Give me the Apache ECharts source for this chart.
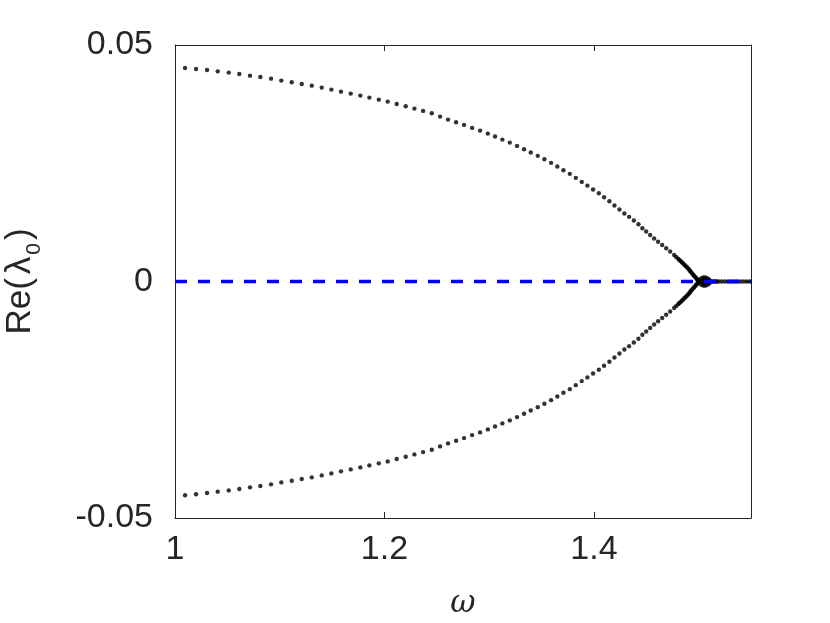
<!DOCTYPE html>
<html>
<head>
<meta charset="utf-8">
<script src="https://cdn.jsdelivr.net/npm/echarts@6/dist/echarts.min.js"></script>
<style>
  html, body { margin: 0; padding: 0; background: #fff; }
  #chart { width: 830px; height: 623px; }
</style>
</head>
<body>
<div id="chart"></div>
<script>
  // omega values of the two bifurcating branches
  var omega = [
    1.0096, 1.0201, 1.0306, 1.0408, 1.0513, 1.0614, 1.0716, 1.0815, 1.0917, 1.1015,
    1.1115, 1.1210, 1.1306, 1.1401, 1.1493, 1.1585, 1.1678, 1.1770, 1.1856, 1.1946,
    1.2031, 1.2117, 1.2203, 1.2286, 1.2369, 1.2452, 1.2531, 1.2607, 1.2684, 1.2760,
    1.2837, 1.2913, 1.2987, 1.3056, 1.3126, 1.3197, 1.3266, 1.3333, 1.3397, 1.3464,
    1.3527, 1.3591, 1.3651, 1.3709, 1.3770, 1.3827, 1.3884, 1.3938, 1.3992, 1.4047,
    1.4097, 1.4148, 1.4196, 1.4244, 1.4291, 1.4336, 1.4381, 1.4425, 1.4463, 1.4499,
    1.4537, 1.4575, 1.4613, 1.4652, 1.4690, 1.4728, 1.4766,
    1.4785, 1.4804, 1.4816, 1.4828, 1.4840, 1.4852, 1.4864, 1.4876, 1.4888, 1.4900,
    1.4910, 1.4919, 1.4928, 1.4938, 1.4948, 1.4957, 1.4966, 1.4976, 1.4983, 1.4990,
    1.4998, 1.5005
  ];
  var reUpper = [
    0.04515, 0.04494, 0.04473, 0.04443, 0.04416, 0.04388, 0.04352, 0.04325, 0.04289, 0.04247,
    0.04211, 0.04177, 0.04141, 0.04099, 0.04057, 0.04014, 0.03972, 0.03930, 0.03888, 0.03845,
    0.03803, 0.03754, 0.03704, 0.03655, 0.03607, 0.03556, 0.03486, 0.03423, 0.03366, 0.03311,
    0.03247, 0.03190, 0.03127, 0.03064, 0.03000, 0.02937, 0.02867, 0.02795, 0.02726, 0.02656,
    0.02584, 0.02508, 0.02430, 0.02352, 0.02276, 0.02191, 0.02106, 0.02028, 0.01944, 0.01866,
    0.01781, 0.01697, 0.01606, 0.01521, 0.01437, 0.01367, 0.01289, 0.01211, 0.01126, 0.01056,
    0.00982, 0.00909, 0.00839, 0.00771, 0.00704, 0.00634, 0.00560,
    0.00520, 0.00480, 0.00456, 0.00433, 0.00406, 0.00380, 0.00353, 0.00327, 0.00301, 0.00275,
    0.00248, 0.00222, 0.00195, 0.00169, 0.00145, 0.00120, 0.00097, 0.00074, 0.00055, 0.00036,
    0.00020, 0.00010
  ];
  var reLower = [
    -0.04520, -0.04497, -0.04473, -0.04443, -0.04416, -0.04388, -0.04352, -0.04325, -0.04289, -0.04247,
    -0.04211, -0.04177, -0.04141, -0.04099, -0.04057, -0.04014, -0.03972, -0.03930, -0.03888, -0.03845,
    -0.03803, -0.03754, -0.03704, -0.03655, -0.03607, -0.03556, -0.03486, -0.03423, -0.03366, -0.03311,
    -0.03247, -0.03190, -0.03127, -0.03064, -0.03000, -0.02937, -0.02867, -0.02795, -0.02726, -0.02656,
    -0.02584, -0.02508, -0.02430, -0.02352, -0.02276, -0.02191, -0.02106, -0.02028, -0.01944, -0.01866,
    -0.01781, -0.01697, -0.01606, -0.01521, -0.01437, -0.01367, -0.01289, -0.01211, -0.01126, -0.01056,
    -0.00982, -0.00909, -0.00839, -0.00771, -0.00704, -0.00634, -0.00560,
    -0.00520, -0.00480, -0.00456, -0.00433, -0.00406, -0.00380, -0.00353, -0.00327, -0.00301, -0.00275,
    -0.00248, -0.00222, -0.00195, -0.00169, -0.00145, -0.00120, -0.00097, -0.00074, -0.00055, -0.00036,
    -0.00020, -0.00010
  ];
  // cluster at the bifurcation point
  var omegaKnot = [1.5025, 1.5025, 1.5045, 1.5045, 1.5065, 1.5065, 1.5085, 1.5085, 1.5100, 1.5100,
                   1.5035, 1.5055, 1.5075, 1.5095];
  var reKnot = [0.0006, -0.0006, 0.0008, -0.0008, 0.0008, -0.0008, 0.0006, -0.0006, 0.0003, -0.0003,
                0, 0, 0, 0];
  // branch sitting on zero after the bifurcation
  var omegaZero = [1.5115, 1.5130, 1.5145, 1.5160, 1.5175, 1.5190, 1.5220, 1.5250, 1.5280, 1.5310,
                   1.5340, 1.5370, 1.5400, 1.5430, 1.5460, 1.5490];
  var reZero = [0, 0, 0, 0, 0, 0, 0, 0, 0, 0, 0, 0, 0, 0, 0, 0];
  // dashed reference line
  var refOmega = [1, 1.55];
  var refRe = [0, 0];

  var xTicks = [1, 1.2, 1.4];
  var yTicks = [-0.05, 0, 0.05];

  function pairs(xs, ys) {
    return xs.map(function (x, i) { return [x, ys[i]]; });
  }

  var chart = echarts.init(document.getElementById('chart'), null, {renderer: 'canvas'});
  var axisColor = '#262626';
  var font = 'Liberation Sans, Arial, sans-serif';

  var dotStyle = {color: '#000'};
  var boxLine = {onZero: false, lineStyle: {color: axisColor, width: 1}};
  var boxTick = {inside: true, length: 6, lineStyle: {color: axisColor}};
  var option = {
    animation: false,
    backgroundColor: '#fff',
    grid: {left: 175, right: 79, top: 45, bottom: 105, outerBoundsMode: 'none', containLabel: false},
    xAxis: [{
      type: 'value',
      min: 1, max: 1.55, interval: 0.2,
      name: 'ω',
      nameLocation: 'middle',
      nameGap: 70,
      nameTextStyle: {fontFamily: 'DejaVu Serif, serif', fontStyle: 'italic', fontSize: 31, color: axisColor},
      axisLine: boxLine,
      axisTick: boxTick,
      axisLabel: {
        margin: 15, fontSize: 34, fontFamily: font, color: axisColor,
        showMaxLabel: false,
        formatter: function (v) { return xTicks.indexOf(+v.toFixed(2)) >= 0 ? String(+v.toFixed(2)) : ''; }
      },
      splitLine: {show: false}
    }, {
      type: 'value', position: 'top',
      min: 1, max: 1.55, interval: 0.2,
      axisLine: boxLine,
      axisTick: boxTick,
      axisLabel: {show: false},
      splitLine: {show: false}
    }],
    yAxis: [{
      type: 'value',
      min: -0.05, max: 0.05, interval: 0.05,
      name: '{a|Re(}{l|λ}{s|0}{a|)}',
      nameLocation: 'middle',
      nameRotate: 90,
      nameGap: 130,
      nameTextStyle: {
        rich: {
          a: {fontSize: 35, fontFamily: font, color: axisColor},
          l: {fontSize: 35, fontFamily: font, color: axisColor, padding: [0, 2, 0, 4]},
          s: {fontSize: 21, fontFamily: font, color: axisColor, padding: [28, 3, 0, 0]}
        }
      },
      axisLine: boxLine,
      axisTick: boxTick,
      axisLabel: {
        margin: 22, fontSize: 34, fontFamily: font, color: axisColor,
        formatter: function (v) {
          var r = +v.toFixed(2);
          return yTicks.indexOf(r) >= 0 ? String(r) : '';
        }
      },
      splitLine: {show: false}
    }, {
      type: 'value', position: 'right',
      min: -0.05, max: 0.05, interval: 0.05,
      axisLine: boxLine,
      axisTick: boxTick,
      axisLabel: {show: false},
      splitLine: {show: false}
    }],
    series: [
      {type: 'scatter', symbolSize: 4.4, itemStyle: dotStyle, data: pairs(omega, reUpper), silent: true, z: 2},
      {type: 'scatter', symbolSize: 4.4, itemStyle: dotStyle, data: pairs(omega, reLower), silent: true, z: 2},
      {type: 'scatter', symbolSize: 5, itemStyle: dotStyle, data: pairs(omegaKnot, reKnot), silent: true, z: 2},
      {type: 'scatter', symbolSize: 4.4, itemStyle: dotStyle, data: pairs(omegaZero, reZero), silent: true, z: 2},
      {
        type: 'line', data: pairs(refOmega, refRe), symbol: 'none', silent: true, z: 3,
        lineStyle: {color: '#0000ff', width: 3.5, type: [12, 11]}
      }
    ]
  };
  chart.setOption(option);
</script>
</body>
</html>
